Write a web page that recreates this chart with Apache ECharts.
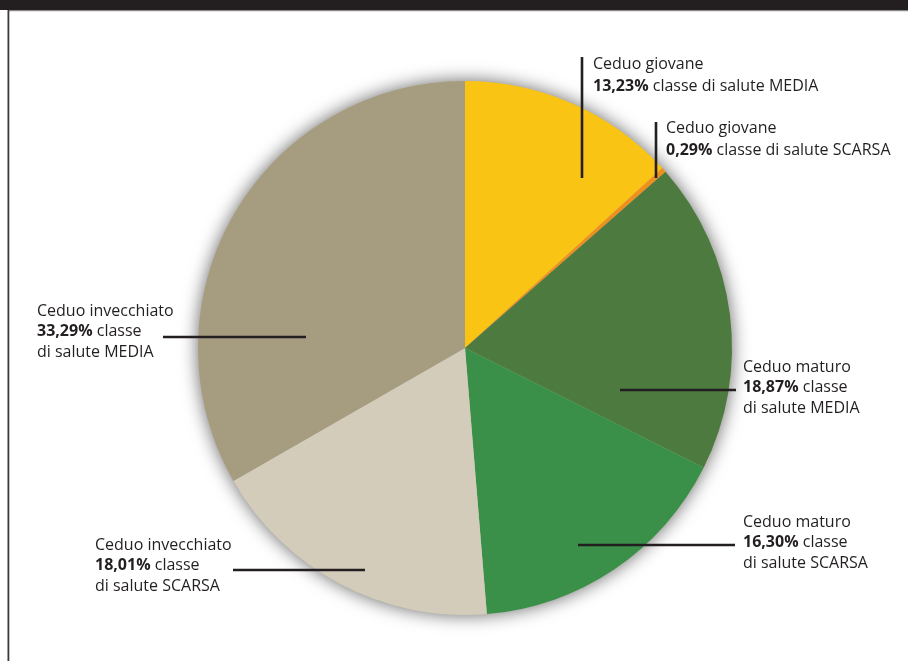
<!DOCTYPE html>
<html>
<head>
<meta charset="utf-8">
<style>
  html, body { margin: 0; padding: 0; background: #ffffff; }
  #chart { width: 908px; height: 661px; }
</style>
<script src="https://cdn.jsdelivr.net/npm/echarts@6/dist/echarts.min.js"></script>
</head>
<body>
<div id="chart"></div>
<script>
// Composizione per classe di salute (%), in senso orario dall'alto
const categories = ['Ceduo giovane', 'Ceduo giovane', 'Ceduo maturo', 'Ceduo maturo', 'Ceduo invecchiato', 'Ceduo invecchiato'];
const healthClass = ['MEDIA', 'SCARSA', 'MEDIA', 'SCARSA', 'SCARSA', 'MEDIA'];
const shares = [13.23, 0.29, 18.87, 16.30, 18.01, 33.29];

// Colori delle fette
const sliceColors = ['#f9c413', '#ef8f1c', '#4c7a3f', '#3a9048', '#d3ccbb', '#a69d80'];

// Posizione dei testi e dei tratti di richiamo (px)
const labelSpots = [
  { x: 593, y: 54, lh: 21.5, wrap: false, line: [[582, 178], [582, 57]] },
  { x: 666, y: 118, lh: 21.5, wrap: false, line: [[656, 178], [656, 122]] },
  { x: 743, y: 357, lh: 20.5, wrap: true, line: [[620, 390], [736, 390]] },
  { x: 743, y: 512, lh: 20.5, wrap: true, line: [[578, 545], [735, 545]] },
  { x: 95, y: 535, lh: 20.5, wrap: true, line: [[365, 570], [233, 570]] },
  { x: 37, y: 301, lh: 20.5, wrap: true, line: [[306, 337], [163, 337]] }
];

const FONT = '"Open Sans", "Noto Sans", sans-serif';
const INK = '#231f20';

function pct(v) {
  return v.toFixed(2).replace('.', ',') + '%';
}

function labelText(i) {
  const p = '{b|' + pct(shares[i]) + '}';
  if (labelSpots[i].wrap) {
    return categories[i] + '\n' + p + ' classe\ndi salute ' + healthClass[i];
  }
  return categories[i] + '\n' + p + ' classe di salute ' + healthClass[i];
}

const pieData = shares.map(function (v, i) {
  return {
    value: v,
    name: categories[i] + ' ' + healthClass[i],
    itemStyle: { color: sliceColors[i] },
    label: {
      lineHeight: labelSpots[i].lh,
      rich: { b: { fontWeight: 'bold', fontSize: 16, fontFamily: FONT, color: INK, lineHeight: labelSpots[i].lh } }
    }
  };
});

// Tratti di richiamo, disegnati sopra le fette
const leaderLines = labelSpots.map(function (s) {
  return {
    type: 'polyline',
    z: 100,
    silent: true,
    shape: { points: s.line },
    style: { stroke: INK, lineWidth: 2.6, fill: null }
  };
});

const chart = echarts.init(document.getElementById('chart'), null, { renderer: 'canvas' });

chart.setOption({
  animation: false,
  backgroundColor: '#ffffff',
  graphic: [
    { type: 'rect', shape: { x: 0, y: 0, width: 908, height: 10 }, style: { fill: '#231f20' }, silent: true },
    { type: 'rect', shape: { x: 9, y: 10, width: 899, height: 1.2 }, style: { fill: '#8a8a8a' }, silent: true },
    { type: 'rect', shape: { x: 7.5, y: 10, width: 1.8, height: 651 }, style: { fill: '#3a3a3a' }, silent: true }
  ].concat(leaderLines),
  series: [
    {
      // disco d'ombra sotto la torta
      type: 'pie',
      silent: true,
      z: 1,
      center: [465, 348],
      radius: 267,
      label: { show: false },
      labelLine: { show: false },
      emphasis: { disabled: true },
      itemStyle: { color: '#bdb6a4', shadowBlur: 18, shadowColor: 'rgba(0,0,0,0.6)' },
      data: [1]
    },
    {
      type: 'pie',
      z: 2,
      center: [465, 348],
      radius: 267,
      startAngle: 90,
      clockwise: true,
      avoidLabelOverlap: false,
      emphasis: { disabled: true },
      itemStyle: { borderWidth: 0 },
      label: {
        show: true,
        position: 'outside',
        formatter: function (p) { return labelText(p.dataIndex); },
        fontFamily: FONT,
        fontSize: 16,
        color: INK,
        align: 'left'
      },
      labelLine: { show: false },
      labelLayout: function (params) {
        const s = labelSpots[params.dataIndex];
        return {
          x: s.x,
          y: s.y,
          align: 'left',
          verticalAlign: 'top'
        };
      },
      data: pieData
    }
  ]
});
</script>
</body>
</html>
